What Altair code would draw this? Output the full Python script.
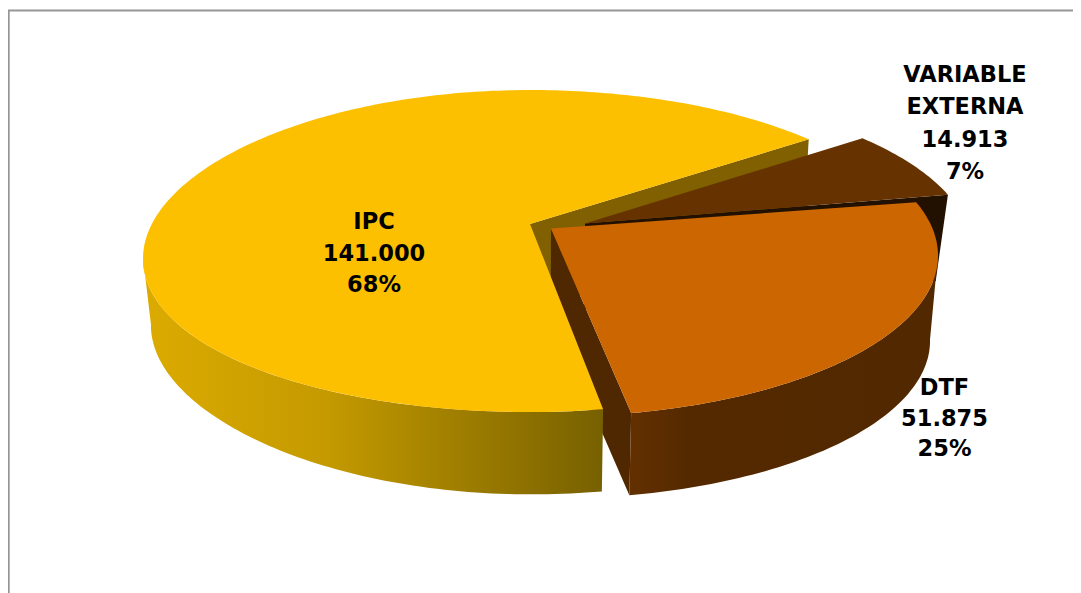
import math
import altair as alt
import pandas as pd

# ---- values ----
names = ["IPC", "VARIABLE\nEXTERNA", "DTF"]
values = [141000, 14913, 51875]

# ---- drawing constants ----
W, H = 1065, 585            # plot area
CX, CY = 530.0, 224.0       # screen position of the pie centre
R, S = 381.5, 156.5         # horizontal / vertical radius
K = 0.168                   # perspective strength
DEPTH = 86.0                # wall height
SHRINK = 0.98               # lower rim is a little smaller
PX0 = 540.0                 # x the shrink is taken around
START = 80.4                # angle (clockwise from east) where IPC begins
LEFT_TANGENT = 170.3        # angle of the silhouette on the left
RIGHT_TANGENT = 9.7         # angle of the silhouette on the right
SAG = 5e-5                  # the left of the rim sags slightly
IPC_END_TRIM = 1.6          # the drawn IPC wedge closes a little early
# slice offsets from the pie centre (screen px) and small angle drift
OFFSET = {"IPC": (0, 0), "VAR": (55, -0.5), "DTF": (21, 4.5)}
DRIFT = {"IPC": 0.4, "VAR": -1.5, "DTF": -0.5}

total = sum(values)
shares = [v / total for v in values]


def sag(x):
    d = min(0.0, x - CX)
    return SAG * d * d


def rim(angle, key):
    a = math.radians(angle + DRIFT[key])
    u, v = math.cos(a), math.sin(a)
    w = 1 - K * v
    ox, oy = OFFSET[key]
    sx, sy = CX + ox + R * u / w, CY + oy + S * v / w
    return sx, sy + sag(sx)


def apex(key):
    ox, oy = OFFSET[key]
    return CX + ox, CY + oy


def lower(p, shrink=SHRINK):
    y = p[1] - 2.5 * sag(p[0])
    return PX0 + shrink * (p[0] - PX0), CY + DEPTH + SHRINK * (y - CY)


def arc(a0, a1, key):
    n = max(2, int(abs(a1 - a0)))
    return [rim(a0 + (a1 - a0) * i / n, key) for i in range(n + 1)]


def to_frame(pts):
    # screen px -> pie units; the x/y scales below take them back to the page
    return pd.DataFrame(
        {
            "X": [(p[0] - CX) / R for p in pts],
            "Y": [(p[1] - CY) / S for p in pts],
            "i": list(range(len(pts))),
        }
    )


x_scale = alt.Scale(domain=[(8 - CX) / R, (8 + W - CX) / R], nice=False, zero=False)
y_scale = alt.Scale(domain=[(8 + H - CY) / S, (8 - CY) / S], nice=False, zero=False)
X = alt.X("X:Q", scale=x_scale, axis=None)
Y = alt.Y("Y:Q", scale=y_scale, axis=None)


def poly(pts, fill):
    return (
        alt.Chart(to_frame(pts))
        .mark_line(interpolate="linear-closed", fill=fill, strokeWidth=0, clip=False)
        .encode(x=X, y=Y, order="i:Q")
    )


a_ipc_0 = START
a_ipc_1 = a_ipc_0 + shares[0] * 360
a_var_1 = a_ipc_1 + shares[1] * 360
a_dtf_1 = a_var_1 + shares[2] * 360

# tops
ipc_top = [apex("IPC")] + arc(a_ipc_0, a_ipc_1 - IPC_END_TRIM, "IPC")
var_top = [apex("VAR")] + arc(a_ipc_1, a_var_1, "VAR")
dtf_top = [apex("DTF")] + arc(a_var_1, a_dtf_1, "DTF")

# cut faces
ipc_end = rim(a_ipc_1 - IPC_END_TRIM, "IPC")
ipc_face = [apex("IPC"), ipc_end, lower(ipc_end), lower(apex("IPC"))]
var_end = rim(a_var_1, "VAR")
var_face = [apex("VAR"), var_end, lower(var_end, 0.97), lower(apex("VAR"))]
dtf_end = rim(a_dtf_1 - 360, "DTF")
dtf_face = [apex("DTF"), dtf_end, lower(dtf_end), lower(apex("DTF"))]

# outer walls (rim from silhouette to the cut)
ipc_rim = arc(a_ipc_0, LEFT_TANGENT, "IPC")
ipc_wall = ipc_rim + [lower(p) for p in reversed(ipc_rim)]
dtf_rim = arc(RIGHT_TANGENT, a_dtf_1 - 360, "DTF")
dtf_wall = dtf_rim + [lower(p) for p in reversed(dtf_rim)]

ipc_gradient = alt.Gradient(
    gradient="linear",
    x1=0, x2=1, y1=0, y2=0,
    stops=[
        alt.GradientStop(color="#dcab00", offset=0),
        alt.GradientStop(color="#c49a00", offset=0.4),
        alt.GradientStop(color="#776000", offset=1),
    ],
)
dtf_gradient = alt.Gradient(
    gradient="linear",
    x1=0, x2=1, y1=0, y2=0,
    stops=[
        alt.GradientStop(color="#633000", offset=0),
        alt.GradientStop(color="#542900", offset=0.2),
        alt.GradientStop(color="#512800", offset=1),
    ],
)

layers = [
    poly(ipc_face, "#806000"),
    poly(var_face, "#221100"),
    poly(var_top, "#663300"),
    poly(dtf_face, "#4f2700"),
    poly(ipc_wall, ipc_gradient),
    poly(ipc_top, "#fdc000"),
    poly(dtf_wall, dtf_gradient),
    poly(dtf_top, "#cc6600"),
]

# labels: position of the first line, and line spacing
LABEL_AT = [(374, 222), (965, 75), (944.5, 388)]
LINE_GAP = [31.5, 32.3, 30.5]
for n, v, s, at, gap in zip(names, values, shares, LABEL_AT, LINE_GAP):
    label = pd.DataFrame(
        {
            "X": [(at[0] - CX) / R],
            "Y": [(at[1] - CY) / S],
            "t": [f"{n}\n{v:,}\n{round(s * 100)}%".replace(",", ".")],
        }
    )
    layers.append(
        alt.Chart(label)
        .mark_text(
            font="DejaVu Sans",
            fontWeight="bold",
            fontSize=22.5,
            lineBreak="\n",
            lineHeight=gap,
            align="center",
            baseline="middle",
            color="#000000",
        )
        .encode(x=X, y=Y, text="t:N")
    )

# chart frame: only its top and left edges fall inside the picture
frame_src = pd.DataFrame({"k": [0]})
layers.append(
    alt.Chart(frame_src)
    .mark_rule(color="#969696", strokeWidth=2)
    .encode(x=alt.value(0), x2=alt.value(W), y=alt.value(2.5))
)
layers.append(
    alt.Chart(frame_src)
    .mark_rule(color="#969696", strokeWidth=2)
    .encode(x=alt.value(0.7), y=alt.value(2), y2=alt.value(H))
)

chart = (
    alt.layer(*layers)
    .properties(
        width=W,
        height=H,
        padding=0,
        autosize=alt.AutoSizeParams(type="none"),
        background="#ffffff",
    )
    .configure_view(strokeWidth=0)
)

chart.save("out.html", embed_options={"renderer": "svg", "actions": False})
